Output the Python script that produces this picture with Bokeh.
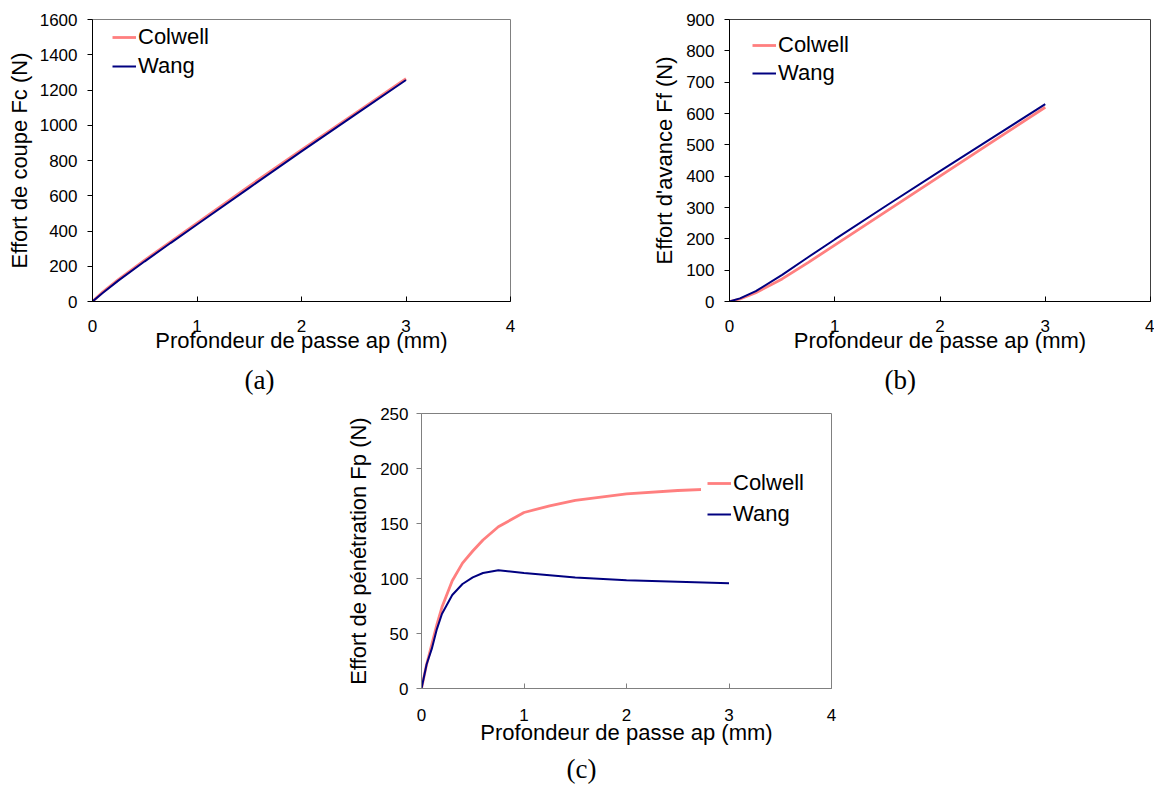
from bokeh.plotting import figure
from bokeh.models import Range1d, FixedTicker, Title
from bokeh.layouts import column, row
from bokeh.embed import file_html
from bokeh.resources import INLINE

# ---------------- data ----------------
ap_a = [0, 0.1, 0.25, 0.5, 0.75, 1, 1.5, 2, 2.5, 3]
fc_colwell = [0, 55, 125, 235, 340, 445, 655, 860, 1062, 1265]
fc_wang = [0, 50, 120, 228, 333, 437, 645, 852, 1055, 1257]

ap_b = [0, 0.1, 0.25, 0.5, 0.75, 1, 1.5, 2, 2.5, 3]
ff_colwell = [0, 8, 28, 72, 125, 180, 290, 400, 510, 620]
ff_wang = [0, 10, 33, 85, 142, 198, 308, 416, 523, 630]

ap_c = [0, 0.05, 0.1, 0.15, 0.2, 0.3, 0.4, 0.5, 0.6, 0.75, 1, 1.25, 1.5, 2, 2.5, 3]
fp_colwell = [0, 22, 40, 58, 74, 98, 114, 125, 135, 147, 160, 166, 171, 177, 180, 182]
fp_wang = [0, 22, 36, 54, 68, 85, 95, 101, 105, 107.5, 105, 103, 101, 98.4, 97, 95.7]

x_ticks = [0, 1, 2, 3, 4]
y_ticks_a = [0, 200, 400, 600, 800, 1000, 1200, 1400, 1600]
y_ticks_b = [0, 100, 200, 300, 400, 500, 600, 700, 800, 900]
y_ticks_c = [0, 50, 100, 150, 200, 250]

x_label = "Profondeur de passe ap (mm)"
y_label_a = "Effort de coupe Fc (N)"
y_label_b = "Effort d'avance Ff (N)"
y_label_c = "Effort de pénétration Fp (N)"
series_names = ["Colwell", "Wang"]
captions = ["(a)", "(b)", "(c)"]

COLWELL = "#FF7F7F"
WANG = "#000080"
SANS = "Liberation Sans"
SERIF = "Liberation Serif"


def make_panel(xs, y1, y2, ymax, yticks, ylabel, caption, fw, fh,
               mb_left, mb_right, mb_top, mb_bottom,
               axis_color, outline_color, leg_loc, leg_pad, leg_bg_alpha,
               leg_spacing, x_std, xlab_std, y_std, ylab_std, cap_off, cap_std):
    p = figure(frame_width=fw, frame_height=fh, output_backend="svg",
               toolbar_location=None, x_range=Range1d(0, 4), y_range=Range1d(0, ymax),
               min_border_left=mb_left, min_border_right=mb_right,
               min_border_top=mb_top, min_border_bottom=mb_bottom)
    p.background_fill_color = "white"
    p.border_fill_color = "white"
    p.outline_line_color = outline_color
    p.outline_line_width = 1
    p.xgrid.visible = False
    p.ygrid.visible = False

    p.line(xs, y1, color=COLWELL, line_width=2.8, legend_label=series_names[0])
    p.line(xs, y2, color=WANG, line_width=2, legend_label=series_names[1])

    for ax, ticks in ((p.xaxis[0], x_ticks), (p.yaxis[0], yticks)):
        ax.ticker = FixedTicker(ticks=ticks)
        ax.minor_tick_line_color = None
        ax.axis_line_color = axis_color
        ax.major_tick_line_color = axis_color
        ax.major_label_text_font = SANS
        ax.major_label_text_font_size = "17px"
        ax.major_label_text_color = "black"
        ax.axis_label_text_font = SANS
        ax.axis_label_text_font_size = "22px"
        ax.axis_label_text_font_style = "normal"
        ax.axis_label_text_color = "black"

    p.xaxis[0].major_tick_in = 5
    p.xaxis[0].major_tick_out = 0
    p.xaxis[0].major_label_standoff = x_std
    p.xaxis[0].axis_label = x_label
    p.xaxis[0].axis_label_standoff = xlab_std

    p.yaxis[0].major_tick_in = 0
    p.yaxis[0].major_tick_out = 5
    p.yaxis[0].major_label_standoff = y_std
    p.yaxis[0].axis_label = ylabel
    p.yaxis[0].axis_label_standoff = ylab_std

    leg = p.legend[0]
    leg.location = leg_loc
    leg.glyph_width = 24
    leg.glyph_height = 20
    leg.label_height = 20
    leg.label_standoff = 2
    leg.label_text_font = SANS
    leg.label_text_font_size = "22px"
    leg.label_text_color = "black"
    leg.spacing = leg_spacing
    leg.padding = leg_pad
    leg.margin = 0
    leg.border_line_alpha = 0
    leg.background_fill_color = "white"
    leg.background_fill_alpha = leg_bg_alpha

    t = Title(text=caption, align="left", offset=cap_off, standoff=cap_std,
              text_font=SERIF, text_font_size="27px", text_font_style="normal",
              text_color="black")
    p.add_layout(t, "below")
    return p


pa = make_panel(ap_a, fc_colwell, fc_wang, 1600, y_ticks_a, y_label_a, captions[0],
                418, 282, 92, 38, 19, 99, "black", "#808080", (20, 222), 0, 0, 3,
                18, -7, 10, 5, 152, 14)
pb = make_panel(ap_b, ff_colwell, ff_wang, 900, y_ticks_b, y_label_b, captions[1],
                421, 282, 181, 4, 19, 99, "black", "#404040", (23, 215), 0, 0, 2,
                18, -7, 10, 6, 155, 14)
pc = make_panel(ap_c, fp_colwell, fp_wang, 250, y_ticks_c, y_label_c, captions[2],
                410, 275, 421, 20, 12, 97, "#808080", "#808080", (280, 155), 6, 1, 5,
                20, -4, 8, 6, 145, 9)

layout = column(row(pa, pb), pc)
open("out.html", "w").write(file_html(layout, INLINE))
